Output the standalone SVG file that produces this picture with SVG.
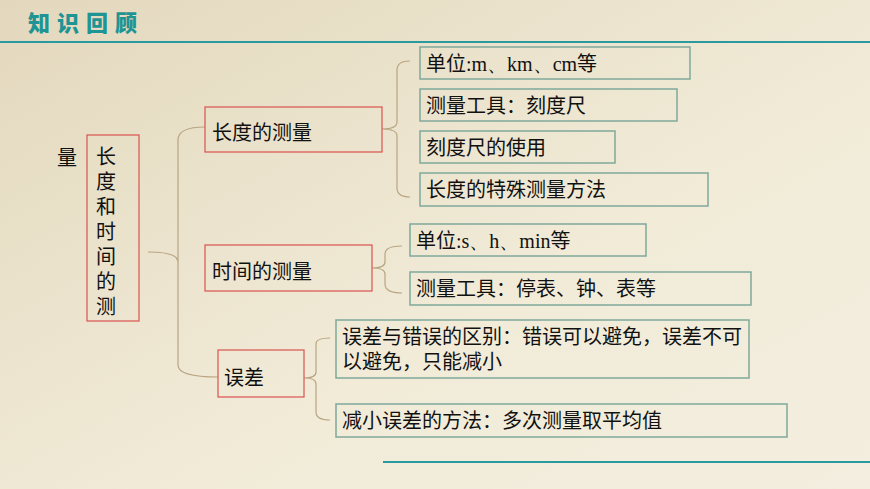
<svg xmlns="http://www.w3.org/2000/svg" width="870" height="489" viewBox="0 0 870 489">
<defs>
<linearGradient id="bg" x1="0" y1="0" x2="1" y2="1">
<stop offset="0" stop-color="#e3d8bd"/><stop offset="0.6" stop-color="#f1ebd8"/><stop offset="1" stop-color="#f3eedf"/>
</linearGradient>
</defs>
<style>
text{font-family:"Noto Sans CJK SC","Noto Sans",sans-serif;font-size:20px;fill:#111}
.r{fill:none;stroke:#d9534f;stroke-width:1.2}
.g{fill:none;stroke:#7fa99a;stroke-width:1.5}
.b{fill:none;stroke:#b8a582;stroke-width:1.2}
.s{font-family:"Liberation Serif",serif}
</style>
<rect width="870" height="489" fill="url(#bg)"/>
<text x="28" y="31" style="font-size:22px;font-weight:900;fill:#1e9494;letter-spacing:7px">知识回顾</text>
<line x1="0" y1="42" x2="870" y2="42" stroke="#2a9aa0" stroke-width="2"/>
<line x1="383" y1="462" x2="870" y2="462" stroke="#2a9aa0" stroke-width="2"/>
<g id="connectors">
<path class="b" d="M148 252 Q178 252 178 262 V140 Q178 127 205 127 M178 262 V365 Q178 377 218 377"/>
<path class="b" d="M382 129 Q397 129 397 122 V70 Q397 61 410 61 M397 136 V188 Q397 197 410 197 M382 129 Q397 129 397 136"/>
<path class="b" d="M372 268 Q385 268 385 262 V254 Q385 246 402 246 M372 268 Q385 268 385 274 V284 Q385 293 402 293"/>
<path class="b" d="M304 378 Q316 378 316 372 V344 Q316 338 330 338 M316 384 V412 Q316 420 330 420 M304 378 Q316 378 316 384"/>
</g>
<g id="n0"><text x="57" y="165">量</text></g>
<g id="n1"><rect class="r" x="87" y="135" width="52" height="186"/>
<text x="106" y="146" style="writing-mode:vertical-rl;letter-spacing:5px">长度和时间的测</text></g>
<g id="n2"><rect class="r" x="205" y="107" width="177" height="45"/><text x="212" y="140">长度的测量</text></g>
<g id="n3"><rect class="r" x="205" y="245" width="167" height="46"/><text x="212" y="279">时间的测量</text></g>
<g id="n4"><rect class="r" x="218" y="350" width="86" height="47"/><text x="224" y="385">误差</text></g>
<g id="n5"><rect class="g" x="420" y="47" width="270" height="32"/><text x="426" y="71">单位<tspan class="s">:m、km、cm</tspan>等</text></g>
<g id="n6"><rect class="g" x="420" y="89" width="257" height="32"/><text x="426" y="113">测量工具：刻度尺</text></g>
<g id="n7"><rect class="g" x="420" y="131" width="195" height="32"/><text x="426" y="155">刻度尺的使用</text></g>
<g id="n8"><rect class="g" x="420" y="173" width="288" height="33"/><text x="426" y="197">长度的特殊测量方法</text></g>
<g id="n9"><rect class="g" x="410" y="224" width="236" height="32"/><text x="416" y="248">单位<tspan class="s">:s、h、min</tspan>等</text></g>
<g id="n10"><rect class="g" x="410" y="272" width="341" height="33"/><text x="416" y="296">测量工具：停表、钟、表等</text></g>
<g id="n11"><rect class="g" x="336" y="320" width="413" height="58"/><text x="342" y="344">误差与错误的区别：错误可以避免，误差不可</text><text x="342" y="369">以避免，只能减小</text></g>
<g id="n12"><rect class="g" x="336" y="404" width="451" height="33"/><text x="342" y="428">减小误差的方法：多次测量取平均值</text></g>
</svg>
